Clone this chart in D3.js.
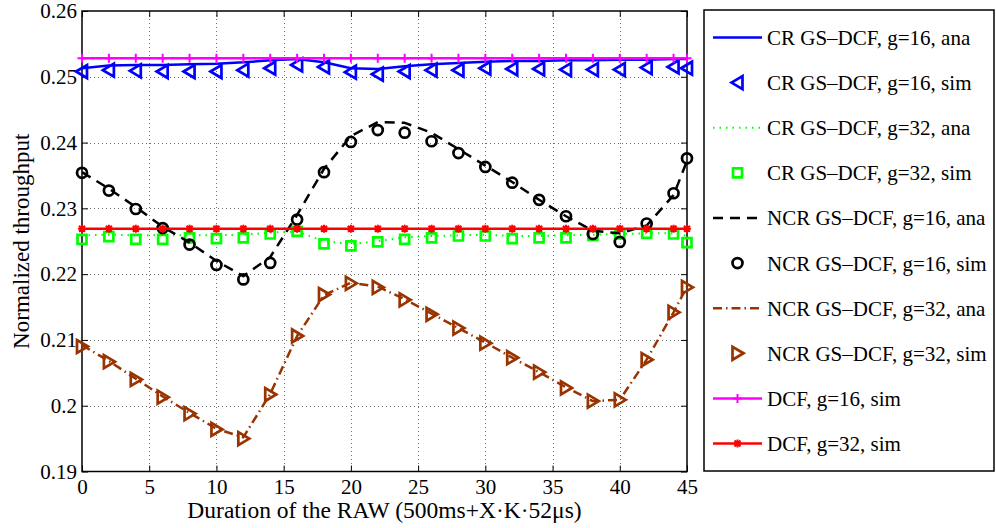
<!DOCTYPE html>
<html>
<head>
<meta charset="utf-8">
<script src="https://cdn.jsdelivr.net/npm/d3@7"></script>
<style>
  body { margin: 0; background: #fff; }
  text { font-family: "Liberation Serif", "Times New Roman", serif; fill: #000; }
</style>
</head>
<body>
<div id="chart"></div>
<script>
// x positions of the simulation points
var xVals = [0, 2, 4, 6, 8, 10, 12, 14, 16, 18, 20, 22, 24, 26, 28, 30, 32, 34, 36, 38, 40, 42, 44, 45];

var crG16Ana = [0.2513, 0.2517, 0.2518, 0.2518, 0.2519, 0.2520, 0.2522, 0.2525, 0.2527, 0.2522, 0.2513, 0.2512,
    0.2516, 0.2519, 0.2521, 0.2523, 0.2524, 0.2524, 0.2525, 0.2525, 0.2526, 0.2526, 0.2527, 0.2527];
var crG16Sim = [0.2508, 0.2510, 0.2509, 0.2508, 0.2508, 0.2508, 0.2510, 0.2513, 0.2518, 0.2515, 0.2507, 0.2504,
    0.2508, 0.2510, 0.2510, 0.2513, 0.2512, 0.2512, 0.2511, 0.2511, 0.2511, 0.2514, 0.2515, 0.2513];
var crG32Ana = [0.2259, 0.2260, 0.2259, 0.2259, 0.2259, 0.2259, 0.2260, 0.2263, 0.2265, 0.2250, 0.2246, 0.2250,
    0.2256, 0.2258, 0.2259, 0.2260, 0.2258, 0.2258, 0.2259, 0.2260, 0.2261, 0.2262, 0.2262, 0.2258];
var crG32Sim = [0.2253, 0.2257, 0.2253, 0.2253, 0.2255, 0.2254, 0.2255, 0.2261, 0.2265, 0.2246, 0.2243, 0.2249,
    0.2253, 0.2255, 0.2258, 0.2258, 0.2254, 0.2255, 0.2255, 0.2259, 0.2261, 0.2262, 0.2261, 0.2248];
var ncrG16Ana = [0.2355, 0.2330, 0.2302, 0.2272, 0.2248, 0.2220, 0.2197, 0.2226, 0.2290, 0.2360, 0.2410, 0.2431,
    0.2430, 0.2415, 0.2390, 0.2365, 0.2340, 0.2313, 0.2288, 0.2266, 0.2262, 0.2274, 0.2320, 0.2372];
var ncrG16Sim = [0.2354, 0.2327, 0.2299, 0.2270, 0.2245, 0.2214, 0.2192, 0.2217, 0.2283, 0.2355, 0.2401, 0.2419,
    0.2415, 0.2402, 0.2384, 0.2363, 0.2339, 0.2313, 0.2288, 0.2261, 0.2249, 0.2277, 0.2323, 0.2376];
var ncrG32Ana = [0.2092, 0.2068, 0.2041, 0.2014, 0.1989, 0.1965, 0.1952, 0.2018, 0.2106, 0.2168, 0.2187, 0.2181,
    0.2162, 0.2140, 0.2118, 0.2096, 0.2073, 0.2051, 0.2028, 0.2007, 0.2009, 0.2070, 0.2142, 0.2181];
var ncrG32Sim = [0.2090, 0.2067, 0.2040, 0.2013, 0.1988, 0.1964, 0.1950, 0.2017, 0.2106, 0.2169, 0.2186, 0.2180,
    0.2161, 0.2139, 0.2118, 0.2095, 0.2073, 0.2051, 0.2027, 0.2007, 0.2009, 0.2070, 0.2142, 0.2180];
var dcfG16 = [0.2528, 0.2528, 0.2528, 0.2528, 0.2528, 0.2528, 0.2528, 0.2528, 0.2528, 0.2528, 0.2528, 0.2528,
    0.2528, 0.2528, 0.2528, 0.2528, 0.2528, 0.2528, 0.2528, 0.2528, 0.2528, 0.2528, 0.2528, 0.2528];
var dcfG32 = [0.2269, 0.2269, 0.2269, 0.2269, 0.2269, 0.2269, 0.2269, 0.2269, 0.2269, 0.2269, 0.2269, 0.2269,
    0.2269, 0.2269, 0.2269, 0.2269, 0.2269, 0.2269, 0.2269, 0.2269, 0.2269, 0.2269, 0.2269, 0.2269];

var xTicks = [0, 5, 10, 15, 20, 25, 30, 35, 40, 45];
var yTicks = [0.19, 0.2, 0.21, 0.22, 0.23, 0.24, 0.25, 0.26];
var legendLabels = ["CR GS\u2013DCF, g=16, ana", "CR GS\u2013DCF, g=16, sim", "CR GS\u2013DCF, g=32, ana",
    "CR GS\u2013DCF, g=32, sim", "NCR GS\u2013DCF, g=16, ana", "NCR GS\u2013DCF, g=16, sim",
    "NCR GS\u2013DCF, g=32, ana", "NCR GS\u2013DCF, g=32, sim", "DCF, g=16, sim", "DCF, g=32, sim"];

var width = 996;
var height = 528;
var plotL = 82, plotR = 687, plotT = 11, plotB = 471.5;

var svg = d3.select('#chart')
    .append('svg')
    .attr('width', width)
    .attr('height', height);

var x = d3.scaleLinear().domain([0, 45]).range([plotL, plotR]);
var y = d3.scaleLinear().domain([0.19, 0.26]).range([plotB, plotT]);

// grid
var grid = svg.append('g')
    .attr('stroke', '#707070')
    .attr('stroke-width', 1)
    .attr('stroke-dasharray', '1,3');
grid.selectAll('.gx')
    .data(xTicks.slice(1, -1))
    .enter()
    .append('line')
    .attr('x1', d => Math.round(x(d)) + 0.5)
    .attr('x2', d => Math.round(x(d)) + 0.5)
    .attr('y1', plotT)
    .attr('y2', plotB);
grid.selectAll('.gy')
    .data(yTicks.slice(1, -1))
    .enter()
    .append('line')
    .attr('y1', d => Math.round(y(d)) + 0.5)
    .attr('y2', d => Math.round(y(d)) + 0.5)
    .attr('x1', plotL)
    .attr('x2', plotR);

// axes: ticks pointing inward, on all four sides
var tickLen = 6;
svg.append('g')
    .attr('transform', 'translate(0,' + plotB + ')')
    .call(d3.axisBottom(x).tickValues(xTicks).tickSize(-tickLen).tickPadding(8).tickFormat(d3.format('d')))
    .call(g => g.select('.domain').remove());
svg.append('g')
    .attr('transform', 'translate(0,' + plotT + ')')
    .call(d3.axisTop(x).tickValues(xTicks).tickSize(-tickLen).tickFormat(''))
    .call(g => g.select('.domain').remove());
svg.append('g')
    .attr('transform', 'translate(' + plotL + ',0)')
    .call(d3.axisLeft(y).tickValues(yTicks).tickSize(-tickLen).tickPadding(5).tickFormat(d => String(+d.toFixed(2))))
    .call(g => g.select('.domain').remove());
svg.append('g')
    .attr('transform', 'translate(' + plotR + ',0)')
    .call(d3.axisRight(y).tickValues(yTicks).tickSize(-tickLen).tickFormat(''))
    .call(g => g.select('.domain').remove());

svg.selectAll('.tick line').attr('stroke', '#000').attr('stroke-width', 1);
svg.selectAll('.tick text')
    .style('font-family', '"Liberation Serif", serif')
    .style('font-size', '21px')
    .attr('fill', '#000');

svg.append('rect')
    .attr('x', plotL)
    .attr('y', plotT)
    .attr('width', plotR - plotL)
    .attr('height', plotB - plotT)
    .attr('fill', 'none')
    .attr('stroke', '#000')
    .attr('stroke-width', 1.5);

// series
var series = [
    { vals: crG16Ana, color: '#0000ff', dash: null, width: 2.5, marker: null },
    { vals: crG16Sim, color: '#0000ff', dash: null, width: 0, marker: 'left' },
    { vals: crG32Ana, color: '#00ff00', dash: '1.5,5', width: 2, marker: null },
    { vals: crG32Sim, color: '#00ff00', dash: null, width: 0, marker: 'square' },
    { vals: ncrG16Ana, color: '#000000', dash: '10,7', width: 2.5, marker: null },
    { vals: ncrG16Sim, color: '#000000', dash: null, width: 0, marker: 'circle' },
    { vals: ncrG32Ana, color: '#993300', dash: '9,4,1.5,4', width: 2.5, marker: null },
    { vals: ncrG32Sim, color: '#993300', dash: null, width: 0, marker: 'right' },
    { vals: dcfG16, color: '#ff00ff', dash: null, width: 2.5, marker: 'plus' },
    { vals: dcfG32, color: '#ff0000', dash: null, width: 2.5, marker: 'star' }
];

function markerPath(type) {
    if (type === 'left') return 'M-6,0L5,-6.5L5,6.5Z';
    if (type === 'right') return 'M6,0L-5,-6.5L-5,6.5Z';
    if (type === 'square') return 'M-4.5,-4.5H4.5V4.5H-4.5Z';
    if (type === 'circle') return 'M-5,0A5,5 0 1,0 5,0A5,5 0 1,0 -5,0Z';
    if (type === 'plus') return 'M-4.5,0H4.5M0,-4.5V4.5';
    if (type === 'star') return 'M-4,0H4M0,-4V4M-3,-3L3,3M-3,3L3,-3';
    return '';
}

function markerWidth(type) {
    return type === 'star' || type === 'plus' ? 2 : 2.7;
}

var line = d3.line()
    .x((d, i) => x(xVals[i]))
    .y(d => y(d));

var plot = svg.append('g');

series.forEach(function (s) {
    if (s.width > 0) {
        plot.append('path')
            .datum(s.vals)
            .attr('d', line)
            .attr('fill', 'none')
            .attr('stroke', s.color)
            .attr('stroke-width', s.width)
            .attr('stroke-dasharray', s.dash)
            .attr('stroke-linejoin', 'round');
    }
    if (s.marker) {
        plot.selectAll(null)
            .data(s.vals)
            .enter()
            .append('path')
            .attr('transform', (d, i) => 'translate(' + x(xVals[i]) + ',' + y(d) + ')')
            .attr('d', markerPath(s.marker))
            .attr('fill', 'none')
            .attr('stroke', s.color)
            .attr('stroke-width', markerWidth(s.marker));
    }
});

// axis labels
svg.append('text')
    .attr('x', (plotL + plotR) / 2)
    .attr('y', 518)
    .attr('text-anchor', 'middle')
    .style('font-size', '23.5px')
    .text('Duration of the RAW (500ms+X\u00b7K\u00b752\u03bcs)');

svg.append('text')
    .attr('transform', 'translate(29,' + (plotT + plotB) / 2 + ') rotate(-90)')
    .attr('text-anchor', 'middle')
    .style('font-size', '23px')
    .text('Normalized throughput');

// legend
var legend = svg.append('g');
legend.append('rect')
    .attr('x', 704)
    .attr('y', 10)
    .attr('width', 290)
    .attr('height', 461)
    .attr('fill', '#fff')
    .attr('stroke', '#000')
    .attr('stroke-width', 1.5);

var rowY = d3.scaleLinear().domain([0, 9]).range([37.5, 443.5]);

series.forEach(function (s, i) {
    var cy = rowY(i);
    if (s.width > 0) {
        legend.append('line')
            .attr('x1', 713)
            .attr('x2', 762)
            .attr('y1', cy)
            .attr('y2', cy)
            .attr('stroke', s.color)
            .attr('stroke-width', s.width)
            .attr('stroke-dasharray', s.dash);
    }
    if (s.marker) {
        legend.append('path')
            .attr('transform', 'translate(737.5,' + cy + ')')
            .attr('d', markerPath(s.marker))
            .attr('fill', 'none')
            .attr('stroke', s.color)
            .attr('stroke-width', markerWidth(s.marker));
    }
    legend.append('text')
        .attr('x', 767)
        .attr('y', cy + 7.5)
        .style('font-size', '21px')
        .text(legendLabels[i]);
});
</script>
</body>
</html>
